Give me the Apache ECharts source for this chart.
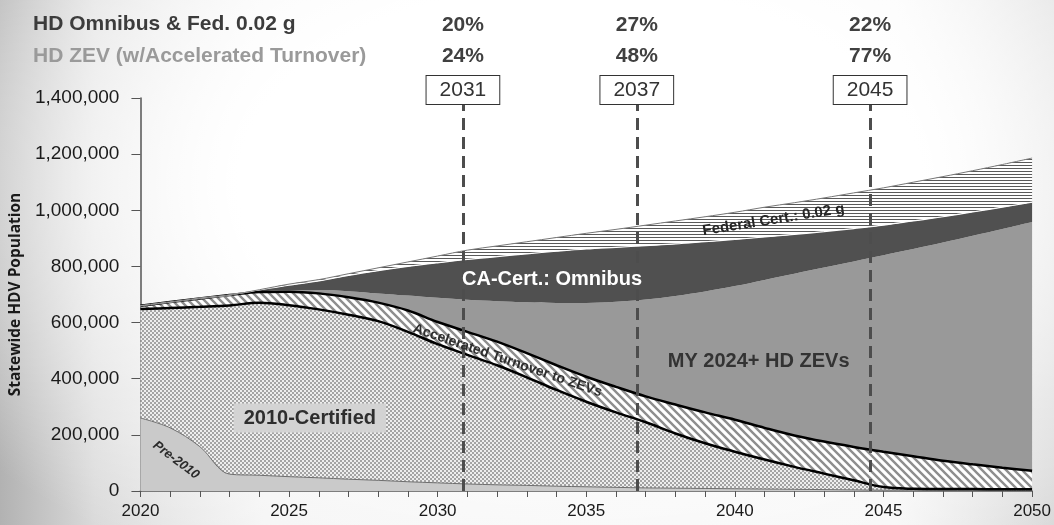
<!DOCTYPE html>
<html>
<head>
<meta charset="utf-8">
<title>Statewide HDV Population</title>
<script src="https://cdn.jsdelivr.net/npm/echarts@6.0.0/dist/echarts.min.js"></script>
<style>
  html, body { margin: 0; padding: 0; }
  body {
    width: 1054px;
    height: 525px;
    overflow: hidden;
    background:
      radial-gradient(ellipse 72% 85% at 55% 35%, #ffffff 45%, rgba(255,255,255,0) 100%),
      linear-gradient(to right, #b2b2b2 0%, #dadada 9%, #f3f3f3 25%, #f6f6f6 85%, #d9d9d9 100%);
  }
  #chart { width: 1054px; height: 525px; }
</style>
</head>
<body>
<div id="chart"></div>
<script>
// x axis: calendar years
const years = [2020, 2021, 2022, 2023, 2024, 2025, 2026, 2027, 2028, 2029,
  2030, 2031, 2032, 2033, 2034, 2035, 2036, 2037, 2038, 2039,
  2040, 2041, 2042, 2043, 2044, 2045, 2046, 2047, 2048, 2049, 2050];

// population of each layer, in thousands of vehicles (stacked bottom -> top)
const pre2010 = [260, 225, 158, 60, 56, 51, 47, 42, 38, 33,
  29, 25, 22, 20, 17, 15, 13, 11, 10, 9,
  8, 7, 6, 5, 4, 3, 3, 2, 2, 2, 2];
const cert2010 = [388, 427, 498, 601, 615, 611, 600, 586, 567, 534,
  494, 460, 426, 385, 343, 303, 267, 234, 195, 161,
  132, 105, 80, 57, 34, 11, 5, 5, 5, 4, 4];
const accelerated = [12, 21, 30, 37, 38, 48, 57, 62, 66, 76,
  79, 82, 84, 86, 88, 89, 91, 92, 103, 110,
  114, 113, 112, 114, 119, 126, 116, 101, 88, 77, 66];
const zev = [0, 0, 0, 0, 2, 5, 12, 22, 33, 53,
  86, 114, 144, 181, 222, 263, 303, 345, 387, 431,
  476, 527, 576, 620, 661, 700, 738, 777, 814, 850, 886];
const omnibus = [0, 0, 0, 0, 5, 18, 32, 56, 81, 104,
  125, 144, 159, 173, 184, 192, 194, 192, 185, 177,
  166, 153, 140, 128, 117, 107, 100, 92, 85, 78, 71];
const federal = [0, 0, 0, 0, 1, 4, 5, 6, 10, 16,
  24, 33, 38, 43, 49, 56, 64, 73, 82, 89,
  97, 106, 113, 120, 127, 133, 138, 143, 147, 152, 157];

// milestone lines with the shares shown above them
const markerYears = ['2031', '2037', '2045'];
const markerPos = [2030.85, 2036.7, 2044.55];
const omnibusShare = ['20%', '27%', '22%'];
const zevShare = ['24%', '48%', '77%'];

const FONT = "'Liberation Sans', Arial, sans-serif";

// fill patterns
function pattern(size, paint) {
  const c = document.createElement('canvas');
  c.width = size[0];
  c.height = size[1];
  paint(c.getContext('2d'), size[0], size[1]);
  return { image: c, repeat: 'repeat' };
}
const checker = pattern([4, 4], (ctx) => {
  ctx.fillStyle = '#eeeeee';
  ctx.fillRect(0, 0, 4, 4);
  ctx.fillStyle = '#a4a4a4';
  ctx.fillRect(0, 0, 2, 2);
  ctx.fillRect(2, 2, 2, 2);
});
const diagonal = pattern([8, 8], (ctx, w) => {
  ctx.fillStyle = '#ffffff';
  ctx.fillRect(0, 0, w, w);
  ctx.strokeStyle = '#8e8e8e';
  ctx.lineWidth = 2.4;
  ctx.beginPath();
  ctx.moveTo(-2, -2); ctx.lineTo(w + 2, w + 2);
  ctx.moveTo(-2, w - 2); ctx.lineTo(2, w + 2);
  ctx.moveTo(w - 2, -2); ctx.lineTo(w + 2, 2);
  ctx.stroke();
});
const horizontal = pattern([4, 3], (ctx) => {
  ctx.fillStyle = '#ffffff';
  ctx.fillRect(0, 0, 4, 3);
  ctx.fillStyle = '#5a5a5a';
  ctx.fillRect(0, 0, 4, 1);
});

// stacked layers sit on the hidden category axis (xAxisIndex 1)
function layer(name, vals, fill, line) {
  return {
    name: name,
    type: 'line',
    stack: 'hdv',
    xAxisIndex: 1,
    data: vals,
    smooth: 0.35,
    symbol: 'none',
    lineStyle: line,
    areaStyle: { color: fill, opacity: 1 },
    emphasis: { disabled: true }
  };
}

function areaLabel(text, at, style) {
  return {
    coord: at,
    label: Object.assign({ show: true, position: 'inside', formatter: text, fontFamily: FONT, fontWeight: 'bold' }, style)
  };
}

const chart = echarts.init(document.getElementById('chart'), null, { renderer: 'canvas' });

const option = {
  animation: false,
  backgroundColor: 'transparent',
  title: {
    text: 'HD Omnibus & Fed. 0.02 g',
    subtext: 'HD ZEV (w/Accelerated Turnover)',
    left: 28,
    top: 9,
    itemGap: 11,
    textStyle: { fontFamily: FONT, fontSize: 21, fontWeight: 'bold', color: '#3c3c3c' },
    subtextStyle: { fontFamily: FONT, fontSize: 21, fontWeight: 'bold', color: '#9a9a9a' }
  },
  grid: { left: 140, right: 21, top: 98, bottom: 34 },
  xAxis: [{
    type: 'value',
    min: 2020,
    max: 2050,
    interval: 5,
    axisLine: { lineStyle: { color: '#555', width: 1.5 } },
    axisTick: { length: 6, lineStyle: { color: '#555' } },
    minorTick: { show: true, splitNumber: 5, length: 6, lineStyle: { color: '#555' } },
    splitLine: { show: false },
    axisLabel: {
      fontFamily: "'Liberation Sans Narrow', 'Arial Narrow', " + FONT,
      fontSize: 17,
      color: '#1a1a1a',
      margin: 12,
      formatter: (v) => String(v)
    }
  }, {
    type: 'category',
    data: years,
    boundaryGap: false,
    show: false
  }],
  yAxis: {
    type: 'value',
    min: 0,
    max: 1400,
    interval: 200,
    name: 'Statewide HDV Population',
    nameLocation: 'middle',
    nameGap: 113,
    nameTextStyle: { fontFamily: "'Open Sans', " + FONT, fontSize: 15.5, fontWeight: 'bold', color: '#1a1a1a' },
    axisLine: { show: true, lineStyle: { color: '#555', width: 1.5 } },
    axisTick: { show: true, length: 9, lineStyle: { color: '#555' } },
    splitLine: { show: false },
    axisLabel: {
      fontFamily: FONT,
      fontSize: 19,
      color: '#1a1a1a',
      margin: 21,
      formatter: (v) => (v * 1000).toLocaleString('en-US')
    }
  },
  series: [
    layer('Pre-2010', pre2010, '#cacaca', { color: '#6e6e6e', width: 1 }),
    layer('2010-Certified', cert2010, checker, { color: '#000', width: 2.5 }),
    layer('Accelerated Turnover to ZEVs', accelerated, diagonal, { color: '#000', width: 2.5 }),
    layer('MY 2024+ HD ZEVs', zev, '#999999', { width: 0 }),
    layer('CA-Cert.: Omnibus', omnibus, '#505050', { color: '#ffffff', width: 1.2 }),
    layer('Federal Cert.: 0.02 g', federal, horizontal, { color: '#777', width: 1 }),
    {
      // carrier for the milestone lines and the in-area labels (value x axis)
      name: 'annotations',
      type: 'line',
      xAxisIndex: 0,
      data: [[2020, 0], [2050, 0]],
      symbol: 'none',
      lineStyle: { width: 0 },
      silent: true,
      markPoint: {
        silent: true,
        symbol: 'circle',
        symbolSize: 0,
        data: [
          areaLabel('Pre-2010', [2021.2, 110], { rotate: -37, fontSize: 13, fontStyle: 'italic', color: '#2a2a2a' }),
          areaLabel('2010-Certified', [2025.7, 260], { fontSize: 20, color: '#2e2e2e', backgroundColor: '#d3d3d3', padding: [5, 10, 4, 10] }),
          areaLabel('Accelerated Turnover to ZEVs', [2032.35, 465], { rotate: -19, fontSize: 14, color: '#2e2e2e' }),
          areaLabel('MY 2024+ HD ZEVs', [2040.8, 460], { fontSize: 20, color: '#333' }),
          areaLabel('CA-Cert.: Omnibus', [2033.85, 755], { fontSize: 20, color: '#ffffff' }),
          areaLabel('Federal Cert.: 0.02 g', [2041.3, 966], { rotate: 9, fontSize: 15, color: '#262626' })
        ]
      },
      markLine: {
        silent: true,
        symbol: ['none', 'none'],
        lineStyle: { color: '#4d4d4d', width: 3, type: [12, 7] },
        data: markerPos.map((x, i) => ({
          xAxis: x,
          label: {
            show: true,
            position: 'end',
            distance: -4,
            formatter: '{pct|' + omnibusShare[i] + '}\n{pct|' + zevShare[i] + '}\n{sp| }\n{year|' + markerYears[i] + '}',
            rich: {
              pct: { fontFamily: FONT, fontSize: 21, fontWeight: 'bold', color: '#404040', lineHeight: 31, align: 'center' },
              sp: { fontSize: 2, lineHeight: 6 },
              year: {
                fontFamily: FONT, fontSize: 21, color: '#333', lineHeight: 24, align: 'center',
                backgroundColor: '#ffffff', borderColor: '#333', borderWidth: 1, padding: [4, 13, 3, 13]
              }
            }
          }
        }))
      }
    }
  ]
};

chart.setOption(option);
</script>
</body>
</html>
